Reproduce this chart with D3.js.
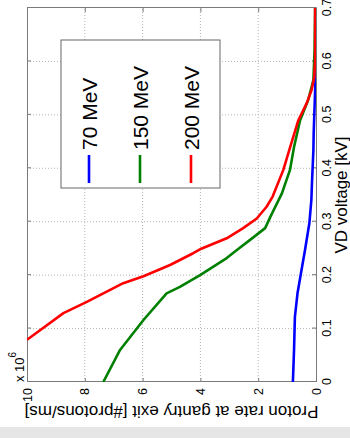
<!DOCTYPE html>
<html>
<head>
<meta charset="utf-8">
<script src="https://cdn.jsdelivr.net/npm/d3@7/dist/d3.min.js"></script>
<style>
  body { margin: 0; background: #fff; }
  svg { display: block; }
  text { font-family: "Liberation Sans", Arial, sans-serif; fill: #000; }
</style>
</head>
<body>
<div id="chart"></div>
<script>
// Page size (the figure is drawn in its own frame and then turned 90 degrees)
var width = 350;
var height = 438;

// Values: VD voltage [kV] and proton rate [x 10^6 protons/ms]
var voltage70 = [0, 0.06, 0.122, 0.166, 0.216, 0.247, 0.297, 0.341, 0.372, 0.434, 0.466, 0.53, 0.578, 0.64, 0.7];
var rate70    = [0.80, 0.76, 0.73, 0.64, 0.48, 0.38, 0.23, 0.16, 0.14, 0.09, 0.08, 0.04, 0.01, 0.01, 0.01];

var voltage150 = [0, 0.06, 0.116, 0.166, 0.178, 0.2, 0.232, 0.25, 0.266, 0.288, 0.309, 0.353, 0.397, 0.44, 0.49, 0.528, 0.565, 0.621, 0.7];
var rate150    = [7.36, 6.78, 5.97, 5.17, 4.71, 4.01, 3.09, 2.67, 2.28, 1.76, 1.58, 1.18, 0.90, 0.76, 0.55, 0.27, 0.09, 0.05, 0.03];

var voltage200 = [0.079, 0.129, 0.15, 0.185, 0.198, 0.219, 0.241, 0.25, 0.269, 0.288, 0.306, 0.328, 0.347, 0.397, 0.437, 0.49, 0.522, 0.547, 0.571, 0.603, 0.7];
var rate200    = [10.0, 8.74, 7.93, 6.67, 5.97, 5.05, 4.25, 3.95, 3.09, 2.52, 2.05, 1.71, 1.50, 1.13, 0.91, 0.61, 0.32, 0.15, 0.06, 0.03, 0.03];

var seriesNames = ["70 MeV", "150 MeV", "200 MeV"];
var seriesColors = ["#0000ff", "#008000", "#ff0000"];

var voltageTicks = [0, 0.1, 0.2, 0.3, 0.4, 0.5, 0.6, 0.7];
var rateTicks = [0, 2, 4, 6, 8, 10];

var series = [
  {name: seriesNames[0], color: seriesColors[0], points: d3.zip(voltage70, rate70)},
  {name: seriesNames[1], color: seriesColors[1], points: d3.zip(voltage150, rate150)},
  {name: seriesNames[2], color: seriesColors[2], points: d3.zip(voltage200, rate200)}
];

// Figure frame before rotation: fw wide, fh high
var fw = height, fh = width;
var margin = {left: 56, right: 8, top: 27, bottom: 34};
var pw = fw - margin.left - margin.right;
var ph = fh - margin.top - margin.bottom;

var svg = d3.select("#chart").append("svg")
    .attr("width", width)
    .attr("height", height);

// Grey strip along the bottom of the page
svg.append("rect")
    .attr("x", 0).attr("y", 427)
    .attr("width", width).attr("height", height - 427)
    .attr("fill", "#e6e6e6");

// Turn the whole figure 90 degrees counter-clockwise
var fig = svg.append("g")
    .attr("transform", "translate(0," + height + ") rotate(-90)");

var g = fig.append("g")
    .attr("transform", "translate(" + margin.left + "," + margin.top + ")");

var x = d3.scaleLinear().domain([0, 0.7]).range([0, pw]);
var y = d3.scaleLinear().domain([0, 10]).range([ph, 0]);

g.append("defs").append("clipPath").attr("id", "plot-clip")
  .append("rect").attr("width", pw).attr("height", ph);

// Dotted grid
g.selectAll("line.vgrid")
  .data(voltageTicks.slice(1, -1))
  .enter().append("line")
    .attr("class", "vgrid")
    .attr("x1", d => x(d)).attr("x2", d => x(d))
    .attr("y1", 0).attr("y2", ph)
    .attr("stroke", "#b4b4b4")
    .attr("stroke-dasharray", "1,2");

g.selectAll("line.hgrid")
  .data(rateTicks.slice(1, -1))
  .enter().append("line")
    .attr("class", "hgrid")
    .attr("x1", 0).attr("x2", pw)
    .attr("y1", d => y(d)).attr("y2", d => y(d))
    .attr("stroke", "#b4b4b4")
    .attr("stroke-dasharray", "1,2");

// Axes with inward ticks, box on all four sides
var fmt = d3.format("");
var axes = [
  {axis: d3.axisBottom(x).tickValues(voltageTicks).tickFormat(fmt), t: "translate(0," + ph + ")"},
  {axis: d3.axisTop(x).tickValues(voltageTicks).tickFormat(""), t: "translate(0,0)"},
  {axis: d3.axisLeft(y).tickValues(rateTicks).tickFormat(fmt), t: "translate(0,0)"},
  {axis: d3.axisRight(y).tickValues(rateTicks).tickFormat(""), t: "translate(" + pw + ",0)"}
];
axes.forEach(function(a) {
  var ax = g.append("g")
      .attr("transform", a.t)
      .call(a.axis.tickSizeInner(-4).tickSizeOuter(0).tickPadding(6));
  ax.select(".domain").attr("stroke", "#7a7a7a");
  ax.selectAll(".tick line").attr("stroke", "#7a7a7a");
  ax.selectAll("text")
      .attr("font-family", "Liberation Sans, Arial, sans-serif")
      .attr("font-size", 12.5)
      .attr("fill", "#000");
});

// Data lines
var line = d3.line()
    .x(d => x(d[0]))
    .y(d => y(d[1]));

g.append("g").attr("clip-path", "url(#plot-clip)")
  .selectAll("path.series")
  .data(series)
  .enter().append("path")
    .attr("class", "series")
    .attr("d", d => line(d.points))
    .attr("fill", "none")
    .attr("stroke", d => d.color)
    .attr("stroke-width", 2.6)
    .attr("stroke-linejoin", "round");

// Scale factor above the rate axis
var mult = fig.append("text")
    .attr("x", margin.left)
    .attr("y", 24)
    .attr("font-size", 13);
mult.append("tspan").text("x 10");
mult.append("tspan").attr("dy", -8).attr("font-size", 10).text("6");

// Axis titles
fig.append("text")
    .attr("x", margin.left + pw / 2)
    .attr("y", 347)
    .attr("text-anchor", "middle")
    .attr("font-size", 17)
    .text("VD voltage [kV]");

fig.append("text")
    .attr("transform", "translate(32," + (margin.top + ph / 2) + ") rotate(-90)")
    .attr("text-anchor", "middle")
    .attr("font-size", 17)
    .text("Proton rate at gantry exit [#protons/ms]");

// Legend box
var legend = fig.append("g").attr("transform", "translate(250,61)");
legend.append("rect")
    .attr("width", 148).attr("height", 159)
    .attr("fill", "#fff")
    .attr("stroke", "#666");

var rows = legend.selectAll("g.row")
  .data(series)
  .enter().append("g")
    .attr("class", "row")
    .attr("transform", (d, i) => "translate(0," + [28, 79, 130][i] + ")");

rows.append("line")
    .attr("x1", 5).attr("x2", 33)
    .attr("stroke", d => d.color)
    .attr("stroke-width", 2.6);

rows.append("text")
    .attr("x", 38)
    .attr("dy", "0.36em")
    .attr("font-size", 21)
    .text(d => d.name);
</script>
</body>
</html>
